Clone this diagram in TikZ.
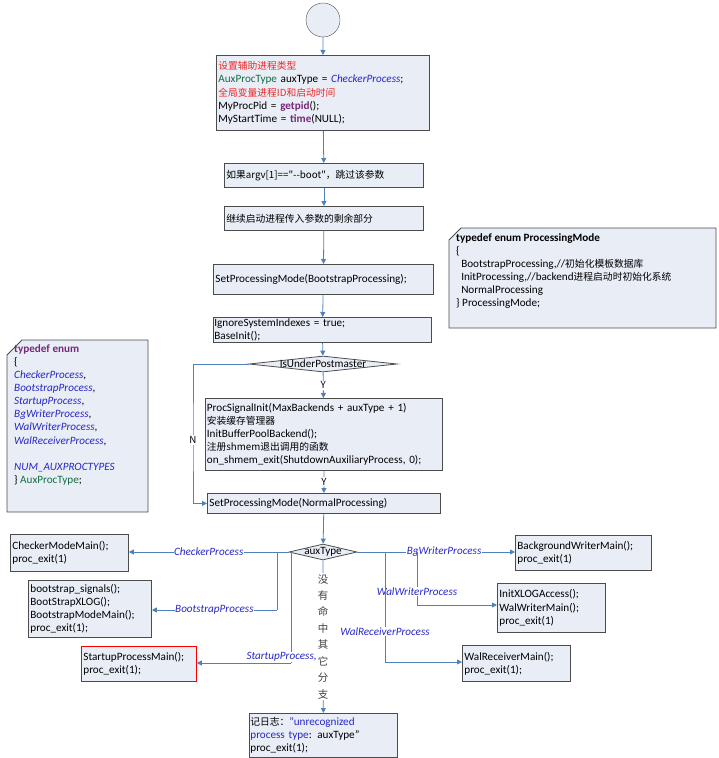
\documentclass[tikz,border=0pt]{standalone}
\usepackage{fontspec}
\setmainfont{Carlito}
\newfontfamily\cjk{Noto Sans CJK SC}
\usetikzlibrary{arrows.meta,shapes.geometric}
\definecolor{boxfill}{RGB}{232,237,246}
\definecolor{flow}{RGB}{79,129,189}
\definecolor{codered}{RGB}{240,40,40}
\definecolor{codegreen}{RGB}{20,110,70}
\definecolor{codeblue}{RGB}{40,40,200}
\definecolor{codepurple}{RGB}{120,40,120}
\newcommand{\zh}[1]{{\cjk\fontsize{9.8}{13}\selectfont #1}}
\newcommand{\kw}[1]{\textcolor{codeblue}{\textit{#1}}}

\begin{document}
\begin{tikzpicture}[x=1bp, y=-1bp,
    every node/.style={font=\fontsize{11.2}{13.2}\selectfont},
    box/.style={draw=black!70, fill=boxfill, thick, anchor=north west, align=left,
                inner sep=2bp, minimum height=#1},
    box/.default=24bp,
    link/.style={flow, thick, -{Triangle[length=5bp,width=5bp]}},
    branch/.style={flow, thick},
    case/.style={text=codeblue, font=\fontsize{11.2}{13}\selectfont\itshape, fill=white, inner sep=0.5bp}]
  \useasboundingbox (0,0) rectangle (719,758);

  % main column
  \node[circle, draw=black!70, fill=boxfill, minimum size=34bp] (start) at (323,20) {};
  \node[box=75bp, text width=209bp] (init) at (216,55) {\textcolor{codered}{\zh{设置辅助进程类型}}\\
    \textcolor{codegreen}{AuxProcType} auxType = \kw{CheckerProcess};\\
    \textcolor{codered}{\zh{全局变量进程ID和启动时间}}\\
    MyProcPid = \textcolor{codepurple}{\textbf{getpid}}();\\
    MyStartTime = \textcolor{codepurple}{\textbf{time}}(NULL);};
  \node[box, text width=195bp] (argv) at (224,163) {\zh{如果argv[1]=="--boot"，跳过该参数}};
  \node[box, text width=195bp] (rest) at (224,206) {\zh{继续启动进程传入参数的剩余部分}};
  \node[box=30bp, text width=216bp] (bsmode) at (213,264) {SetProcessingMode(BootstrapProcessing);};
  \node[box=25bp, text width=216bp, inner sep=1bp] (base) at (213,317) {IgnoreSystemIndexes = true;\\BaseInit();};
  \node[diamond, draw=black!70, fill=boxfill, thick, minimum width=148bp, minimum height=16bp,
        inner sep=0pt] (under) at (323,364) {};
  \node (undertext) at (323,364) {IsUnderPostmaster};
  \node[box=72bp, text width=234bp, inner sep=1.5bp] (signal) at (205,398) {ProcSignalInit(MaxBackends + auxType + 1)\\
    \zh{安装缓存管理器}\\
    InitBufferPoolBackend();\\
    \zh{注册shmem退出调用的函数}\\
    on\_shmem\_exit(ShutdownAuxiliaryProcess, 0);};
  \node[box=20bp, text width=229bp] (normal) at (207,493) {SetProcessingMode(NormalProcessing)};
  \node[diamond, draw=black!70, fill=boxfill, thick, minimum width=68bp, minimum height=16bp,
        inner sep=0pt] (aux) at (323,552) {};
  \node (auxtext) at (323,552) {auxType};

  % branches
  \node[box=37bp, text width=114bp] (checker) at (10,534) {CheckerModeMain();\\proc\_exit(1)};
  \node[box=57bp, text width=119bp] (boot) at (28,580) {bootstrap\_signals();\\BootStrapXLOG();\\BootstrapModeMain();\\proc\_exit(1);};
  \node[box=35bp, text width=111bp, draw=red] (startup) at (81,646) {StartupProcessMain();\\proc\_exit(1);};
  \node[box=35bp, text width=132bp] (bgw) at (515,535) {BackgroundWriterMain();\\proc\_exit(1)};
  \node[box=49bp, text width=104bp] (walw) at (497,583) {InitXLOGAccess();\\WalWriterMain();\\proc\_exit(1)};
  \node[box=36bp, text width=104bp] (walr) at (462,645) {WalReceiverMain();\\proc\_exit(1);};
  \node[box=44bp, text width=146bp, inner sep=1bp] (unknown) at (249,713) {\zh{记日志：}\textcolor{codeblue}{"unrecognized\\process type}: auxType"\\proc\_exit(1);};

  % notes
  \draw[thick, black!70, fill=boxfill] (7,355) -- (22,340) -- (148,340) -- (148,512) -- (7,512) -- cycle;
  \node[anchor=north west, align=left, inner sep=0pt] (auxenum) at (14,344) {\textcolor{codepurple}{\textbf{typedef enum}}\\{\{}\\
    \kw{CheckerProcess},\\\kw{BootstrapProcess},\\\kw{StartupProcess},\\\kw{BgWriterProcess},\\
    \kw{WalWriterProcess},\\\kw{WalReceiverProcess},\\[13bp]\kw{NUM\_AUXPROCTYPES}\\
    \} \textcolor{codegreen}{AuxProcType};};
  \draw[thick, black!70, fill=boxfill] (449,240) -- (461,228) -- (716,228) -- (716,328) -- (449,328) -- cycle;
  \node[anchor=north west, align=left, inner sep=0pt] (modeenum) at (456,233) {\textbf{typedef enum ProcessingMode}\\{\{}\\
    \ \ BootstrapProcessing,//\zh{初始化模板数据库}\\
    \ \ InitProcessing,//backend\zh{进程启动时初始化系统}\\
    \ \ NormalProcessing\\
    \} ProcessingMode;};

  % connectors
  \draw[link] (start) -- (init);
  \draw[link] (init) -- (argv);
  \draw[link] (argv) -- (rest);
  \draw[link] (rest) -- (bsmode);
  \draw[link] (bsmode) -- (base);
  \draw[link] (base) -- (under);
  \draw[link] (under) -- node[fill=white, inner sep=1bp, text=black] {\zh{Y}} (signal);
  \draw[link] (signal) -- node[fill=white, inner sep=1bp, text=black] {\zh{Y}} (normal);
  \draw[link] (under.west) -| (193,440) node[fill=white, inner sep=1bp, text=black] {\zh{N}} |- (normal.west);
  \draw[link] (normal) -- (aux);

  \draw[link] (aux.west) -- node[case] {CheckerProcess} (checker.east |- aux);
  \draw[branch] (277,552) -- (277,610);
  \draw[link] (277,610) -- node[case] {BootstrapProcess} (boot.east |- 0,610);
  \draw[branch] (291,552) -- (291,663);
  \draw[link] (291,663) -- node[case, pos=0.1, above=1bp] {StartupProcess,} (startup.east |- 0,663);
  \draw[link] (aux.east) -- node[case, pos=0.55] {BgWriterProcess} (bgw.west |- aux);
  \draw[branch] (417,552) -- node[case, pos=0.75] {WalWriterProcess} (417,605);
  \draw[link] (417,605) -- (walw.west |- 0,605);
  \draw[branch] (385,552) -- node[case, pos=0.72] {WalReceiverProcess} (385,662);
  \draw[link] (385,662) -- (walr.west |- 0,662);
  \draw[link] (aux.south) -- node[fill=white, inner sep=1bp, align=center, text width=12bp, text=black!75,
    font=\cjk\fontsize{10.5}{16.5}\selectfont] {没\\有\\命\\中\\其\\它\\分\\支} (unknown);
\end{tikzpicture}
\end{document}
